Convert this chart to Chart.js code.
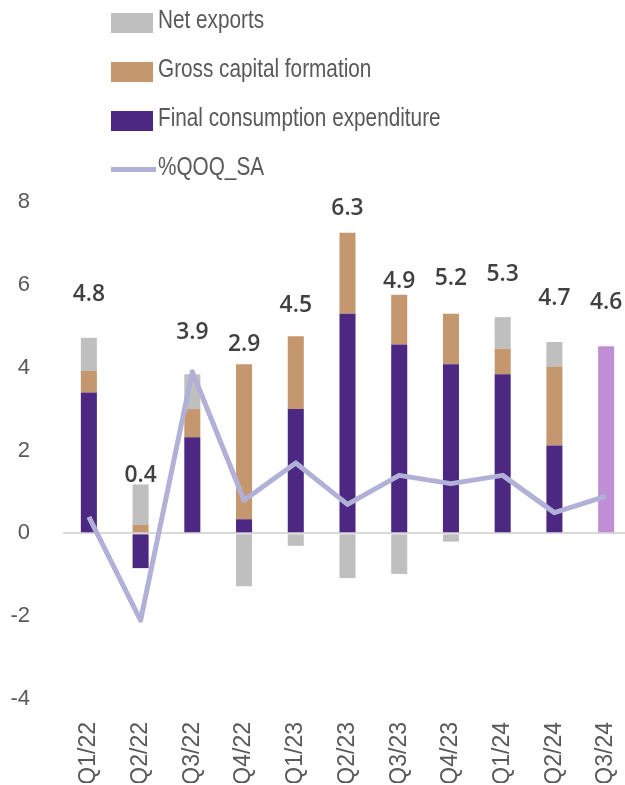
<!DOCTYPE html>
<html>
<head>
<meta charset="utf-8">
<script src="https://cdn.jsdelivr.net/npm/chart.js@4"></script>
<style>
  html, body { margin: 0; padding: 0; background: #fff; overflow: hidden; }
  #wrap { position: relative; width: 632px; height: 785px; }
  #legend { position: absolute; left: 111px; top: -2px; font-family: "Liberation Sans", sans-serif; font-size: 25px; color: #595959; }
  #legend .row { height: 49px; display: flex; align-items: center; }
  #legend .sw { width: 42px; height: 20px; margin-right: 5px; }
  #legend .ln { width: 45px; height: 5px; margin-right: 2px; }
  #legend span { position: relative; top: -3px; white-space: nowrap; display: inline-block; transform: scaleX(0.83); transform-origin: left center; }
</style>
</head>
<body>
<div id="wrap">
  <canvas id="gdpChart"></canvas>
  <div id="legend"></div>
</div>
<script>
// quarters on the x axis
const quarters = ["Q1/22", "Q2/22", "Q3/22", "Q4/22", "Q1/23", "Q2/23", "Q3/23", "Q4/23", "Q1/24", "Q2/24", "Q3/24"];

// contributions to growth (percentage points)
const finalConsumption = [3.4, -0.84, 2.32, 0.34, 3.0, 5.3, 4.56, 4.08, 3.84, 2.12, null];
const grossCapital     = [0.52, 0.2, 0.68, 3.74, 1.76, 1.96, 1.2, 1.22, 0.62, 1.9, null];
const netExports       = [0.8, 0.98, 0.84, -1.28, -0.3, -1.08, -0.98, -0.2, 0.76, 0.6, null];
// Q3/24 only has the total so far
const flashTotal       = [null, null, null, null, null, null, null, null, null, null, 4.52];

// %QOQ_SA line
const qoqSA = [0.4, -2.1, 3.9, 0.8, 1.7, 0.7, 1.4, 1.2, 1.4, 0.5, 0.9];

// labels written above each bar, and the height (axis value) they sit at
const yoyLabels = [4.8, 0.4, 3.9, 2.9, 4.5, 6.3, 4.9, 5.2, 5.3, 4.7, 4.6];
const labelAt   = [5.77, 1.4, 4.86, 4.57, 5.5, 7.85, 6.1, 6.16, 6.25, 5.68, 5.58];

const yTicks = { min: -4, max: 8, step: 2 };

const colors = {
  fce: "#4c2882",
  gcf: "#c5976e",
  nx: "#bfbfbf",
  flash: "#bf8ed4",
  line: "#b1b0d6",
  text: "#595959",
  label: "#404040",
};

const sans = "'Liberation Sans', sans-serif";

// draws the numbers above the bars through the chart's own scales
const topLabels = {
  id: "topLabels",
  afterDatasetsDraw(chart) {
    const { ctx, scales } = chart;
    ctx.save();
    ctx.font = "600 24px 'Open Sans', " + sans;
    ctx.fillStyle = colors.label;
    ctx.textAlign = "center";
    ctx.textBaseline = "middle";
    yoyLabels.forEach((v, i) => {
      const x = scales.x.getPixelForValue(i);
      const y = scales.y.getPixelForValue(labelAt[i]);
      ctx.save();
      ctx.translate(x, y);
      ctx.scale(0.95, 1);
      ctx.fillText(v.toFixed(1), 0, 0);
      ctx.restore();
    });
    ctx.restore();
  },
};

const barOpts = { stack: "gdp", order: 1, barPercentage: 0.31, categoryPercentage: 1, borderWidth: 0 };

const chart = new Chart(document.getElementById("gdpChart"), {
  type: "bar",
  data: {
    labels: quarters,
    datasets: [
      {
        type: "line",
        label: "%QOQ_SA",
        data: qoqSA,
        borderColor: colors.line,
        backgroundColor: colors.line,
        borderWidth: 5,
        borderJoinStyle: "round",
        pointRadius: 0,
        tension: 0,
        stack: "line",
        order: 0,
      },
      { label: "Final consumption expenditure", data: finalConsumption, backgroundColor: colors.fce, ...barOpts },
      { label: "Gross capital formation", data: grossCapital, backgroundColor: colors.gcf, ...barOpts },
      { label: "Net exports", data: netExports, backgroundColor: colors.nx, ...barOpts },
      { label: "Q3/24", data: flashTotal, backgroundColor: colors.flash, ...barOpts },
    ],
  },
  options: {
    responsive: true,
    maintainAspectRatio: false,
    animation: false,
    layout: { padding: { top: 202, bottom: 2, left: 0, right: 0 } },
    plugins: {
      legend: { display: false },
      tooltip: { enabled: false },
    },
    scales: {
      x: {
        stacked: true,
        afterFit: (scale) => {
          scale.height = 84;
          scale.paddingLeft = 0;
          scale.paddingRight = 0;
        },
        grid: { display: false, drawTicks: false },
        border: { display: false },
        ticks: {
          autoSkip: false,
          maxRotation: 90,
          minRotation: 90,
          padding: 23,
          color: colors.text,
          font: { family: sans, size: 23 },
        },
      },
      y: {
        stacked: true,
        min: yTicks.min,
        max: yTicks.max,
        afterFit: (scale) => { scale.width = 63; },
        grid: {
          drawTicks: false,
          lineWidth: 2,
          color: (c) => (c.tick && c.tick.value === 0 ? "#d9d9d9" : "rgba(0,0,0,0)"),
        },
        border: { display: false },
        ticks: {
          stepSize: yTicks.step,
          padding: 33,
          color: colors.text,
          font: { family: sans, size: 22 },
        },
      },
    },
  },
  plugins: [topLabels],
});

// legend, built from the datasets
const legendOrder = ["Net exports", "Gross capital formation", "Final consumption expenditure", "%QOQ_SA"];
const legend = document.getElementById("legend");
legend.innerHTML = legendOrder
  .map((name) => {
    const ds = chart.data.datasets.find((d) => d.label === name);
    const mark = ds.type === "line"
      ? `<div class="ln" style="background:${ds.borderColor}"></div>`
      : `<div class="sw" style="background:${ds.backgroundColor}"></div>`;
    return `<div class="row">${mark}<span>${name}</span></div>`;
  })
  .join("");
</script>
</body>
</html>
